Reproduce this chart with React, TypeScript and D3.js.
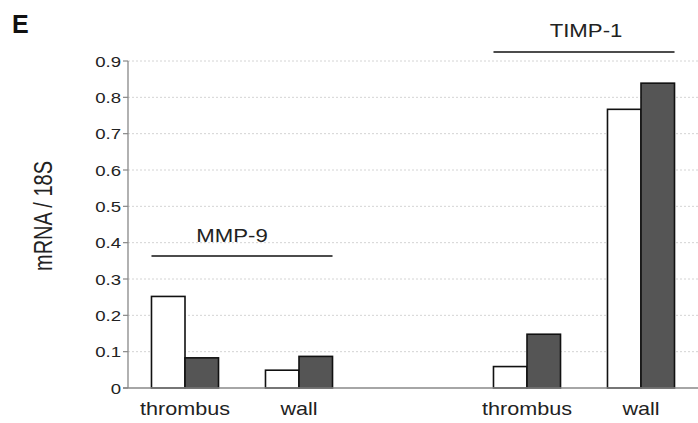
import React from "react";
import * as d3 from "d3";

// Genes and sample sites
const genes = ["MMP-9", "TIMP-1"];
const sites = ["thrombus", "wall"];
// Two conditions per site: open bars and filled bars
const openValues: Record<string, number[]> = {
  "MMP-9": [0.252, 0.049],
  "TIMP-1": [0.059, 0.767],
};
const filledValues: Record<string, number[]> = {
  "MMP-9": [0.083, 0.087],
  "TIMP-1": [0.148, 0.839],
};
const yTicks = [0, 0.1, 0.2, 0.3, 0.4, 0.5, 0.6, 0.7, 0.8, 0.9];
const yTickLabels = ["0", "0.1", "0.2", "0.3", "0.4", "0.5", "0.6", "0.7", "0.8", "0.9"];

const W = 698;
const H = 423;
const left = 128;
const right = 698;
const top = 61;
const bottom = 388;
const FONT = "Liberation Sans, Arial, Helvetica, sans-serif";
const SX = 1.2;

export default function App() {
  const slots = ["MMP-9|thrombus", "MMP-9|wall", "gap", "TIMP-1|thrombus", "TIMP-1|wall"];
  const x = d3.scaleBand<string>().domain(slots).range([left, right]).paddingInner(0).paddingOuter(0);
  const step = x.bandwidth();
  const inner = d3
    .scaleBand<string>()
    .domain(["open", "filled"])
    .range([step * 0.206, step * 0.794])
    .padding(0);
  const y = d3.scaleLinear().domain([0, 0.9]).range([bottom, top]);

  const bars: { key: string; x: number; w: number; v: number; fill: string }[] = [];
  genes.forEach((g) => {
    sites.forEach((s, i) => {
      const bx = x(`${g}|${s}`)!;
      bars.push({ key: `${g}-${s}-o`, x: bx + inner("open")!, w: inner.bandwidth(), v: openValues[g][i], fill: "#ffffff" });
      bars.push({ key: `${g}-${s}-f`, x: bx + inner("filled")!, w: inner.bandwidth(), v: filledValues[g][i], fill: "#555555" });
    });
  });

  // bracket lines spanning each gene's bars
  const brackets = genes.map((g, gi) => {
    const x0 = x(`${g}|thrombus`)! + inner("open")!;
    const x1 = x(`${g}|wall`)! + inner("filled")! + inner.bandwidth();
    return { g, x0, x1, ly: gi === 0 ? 256 : 52, ty: gi === 0 ? 242 : 37, tx: gi === 0 ? 232 : 586 };
  });

  return (
    <svg width={W} height={H} style={{ position: "absolute", left: 0, top: 0, background: "#fff" }}>
      <rect x={0} y={0} width={W} height={H} fill="#fff" />
      <text x={12} y={33} fontFamily={FONT} fontWeight="bold" fontSize={25} fill="#111">E</text>

      {/* gridlines */}
      {yTicks.slice(1).map((t) => (
        <line key={t} x1={left} x2={right} y1={y(t)} y2={y(t)} stroke="#d4d4d4" strokeWidth={1} strokeDasharray="2,2" />
      ))}

      {/* bars */}
      {bars.map((b) => (
        <rect key={b.key} x={b.x} y={y(b.v)} width={b.w} height={y(0) - y(b.v)} fill={b.fill} stroke="#111" strokeWidth={1.6} />
      ))}

      {/* axes */}
      <line x1={left} x2={left} y1={top} y2={bottom} stroke="#888" strokeWidth={1.3} />
      <line x1={left - 5} x2={right} y1={bottom} y2={bottom} stroke="#888" strokeWidth={1.3} />
      {yTicks.map((t, i) => (
        <g key={t}>
          <line x1={left - 5} x2={left} y1={y(t)} y2={y(t)} stroke="#888" strokeWidth={1.2} />
          <text
            transform={`translate(${left - 7},${y(t) + 5.5}) scale(${SX},1)`}
            textAnchor="end"
            fontFamily={FONT}
            fontSize={15.5}
            fill="#222"
          >
            {yTickLabels[i]}
          </text>
        </g>
      ))}

      {/* category labels */}
      {genes.map((g) =>
        sites.map((s) => (
          <text
            key={`${g}-${s}`}
            transform={`translate(${x(`${g}|${s}`)! + step / 2},${415}) scale(${SX},1)`}
            textAnchor="middle"
            fontFamily={FONT}
            fontSize={18}
            fill="#222"
          >
            {s}
          </text>
        ))
      )}

      {/* gene brackets */}
      {brackets.map((b) => (
        <g key={b.g}>
          <line x1={b.x0} x2={b.x1} y1={b.ly} y2={b.ly} stroke="#111" strokeWidth={1.6} />
          <text
            transform={`translate(${b.tx},${b.ty}) scale(${SX},1)`}
            textAnchor="middle"
            fontFamily={FONT}
            fontSize={18.5}
            fill="#222"
          >
            {b.g}
          </text>
        </g>
      ))}

      {/* y-axis title */}
      <text
        transform={`translate(52,216) rotate(-90) scale(1,1.25)`}
        textAnchor="middle"
        fontFamily={FONT}
        fontSize={20}
        fill="#222"
      >
        mRNA / 18S
      </text>
    </svg>
  );
}
